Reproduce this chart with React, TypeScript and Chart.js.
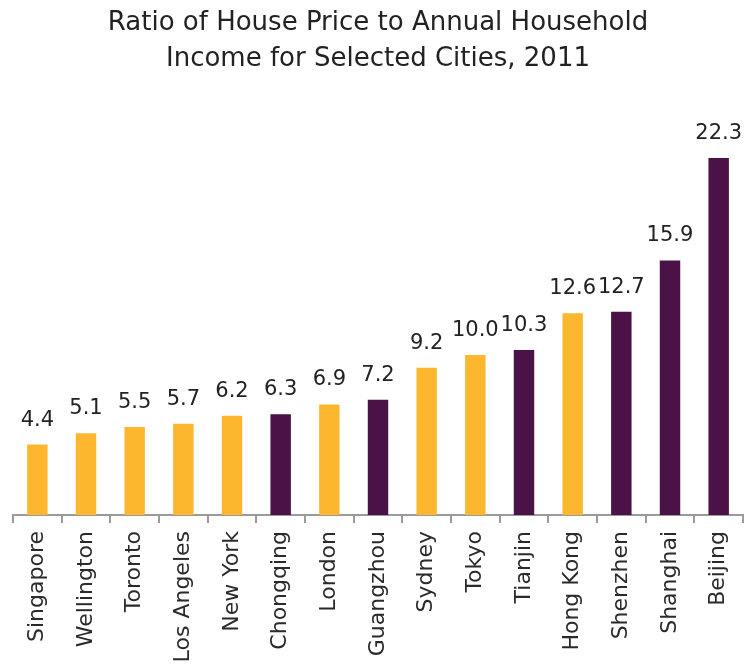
import React, { useEffect, useRef } from "react";
import { Chart, registerables } from "chart.js";

Chart.register(...registerables);

const titleLines = ["Ratio of House Price to Annual Household", "Income for Selected Cities, 2011"];
const cities = [
  "Singapore", "Wellington", "Toronto", "Los Angeles", "New York", "Chongqing", "London",
  "Guangzhou", "Sydney", "Tokyo", "Tianjin", "Hong Kong", "Shenzhen", "Shanghai", "Beijing",
];
const ratios = [4.4, 5.1, 5.5, 5.7, 6.2, 6.3, 6.9, 7.2, 9.2, 10.0, 10.3, 12.6, 12.7, 15.9, 22.3];
const isMainland = [false, false, false, false, false, true, false, true, false, false, true, false, true, true, true];

const GOLD = "#FDB72F";
const PURPLE = "#4A1246";
const FONT = "'DejaVu Sans', 'Noto Sans', sans-serif";

const valueLabels = {
  id: "valueLabels",
  afterDatasetsDraw(chart: any) {
    const ctx = chart.ctx;
    const meta = chart.getDatasetMeta(0);
    ctx.save();
    ctx.font = `21px ${FONT}`;
    ctx.fillStyle = "#222";
    ctx.textAlign = "center";
    ctx.textBaseline = "bottom";
    meta.data.forEach((bar: any, i: number) => {
      ctx.fillText(ratios[i].toFixed(1), bar.x, bar.y - 14);
    });
    ctx.restore();
  },
};

export default function App() {
  const ref = useRef<HTMLCanvasElement>(null);
  useEffect(() => {
    document.body.style.margin = "0";
    const chart = new Chart(ref.current!, {
      type: "bar",
      data: {
        labels: cities,
        datasets: [
          {
            data: ratios,
            backgroundColor: isMainland.map((m) => (m ? PURPLE : GOLD)),
            categoryPercentage: 1,
            barPercentage: 0.42,
          },
        ],
      },
      options: {
        responsive: false,
        animation: false,
        layout: { padding: { left: 13, right: 5, top: 0, bottom: 0 } },
        plugins: {
          legend: { display: false },
          tooltip: { enabled: false },
          title: {
            display: true,
            text: titleLines,
            color: "#222",
            font: { family: FONT, size: 26, weight: "normal", lineHeight: 1.4 },
            padding: { top: 5, bottom: 53 },
          },
        },
        scales: {
          x: {
            offset: true,
            grid: {
              offset: true,
              drawOnChartArea: false,
              drawTicks: true,
              tickLength: 8,
              color: "#9a9a9a",
              lineWidth: 2,
            },
            border: { display: true, color: "#9a9a9a", width: 2 },
            ticks: {
              minRotation: 90,
              maxRotation: 90,
              autoSkip: false,
              padding: 8,
              color: "#2a2a2a",
              font: { family: FONT, size: 22 },
            },
            afterFit(scale: any) {
              scale.height = 152;
              scale.paddingLeft = 0;
              scale.paddingRight = 0;
            },
          },
          y: {
            display: false,
            min: 0,
            max: 24,
          },
        },
      },
      plugins: [valueLabels],
    });
    return () => chart.destroy();
  }, []);
  return <canvas ref={ref} width={748} height={667} />;
}
